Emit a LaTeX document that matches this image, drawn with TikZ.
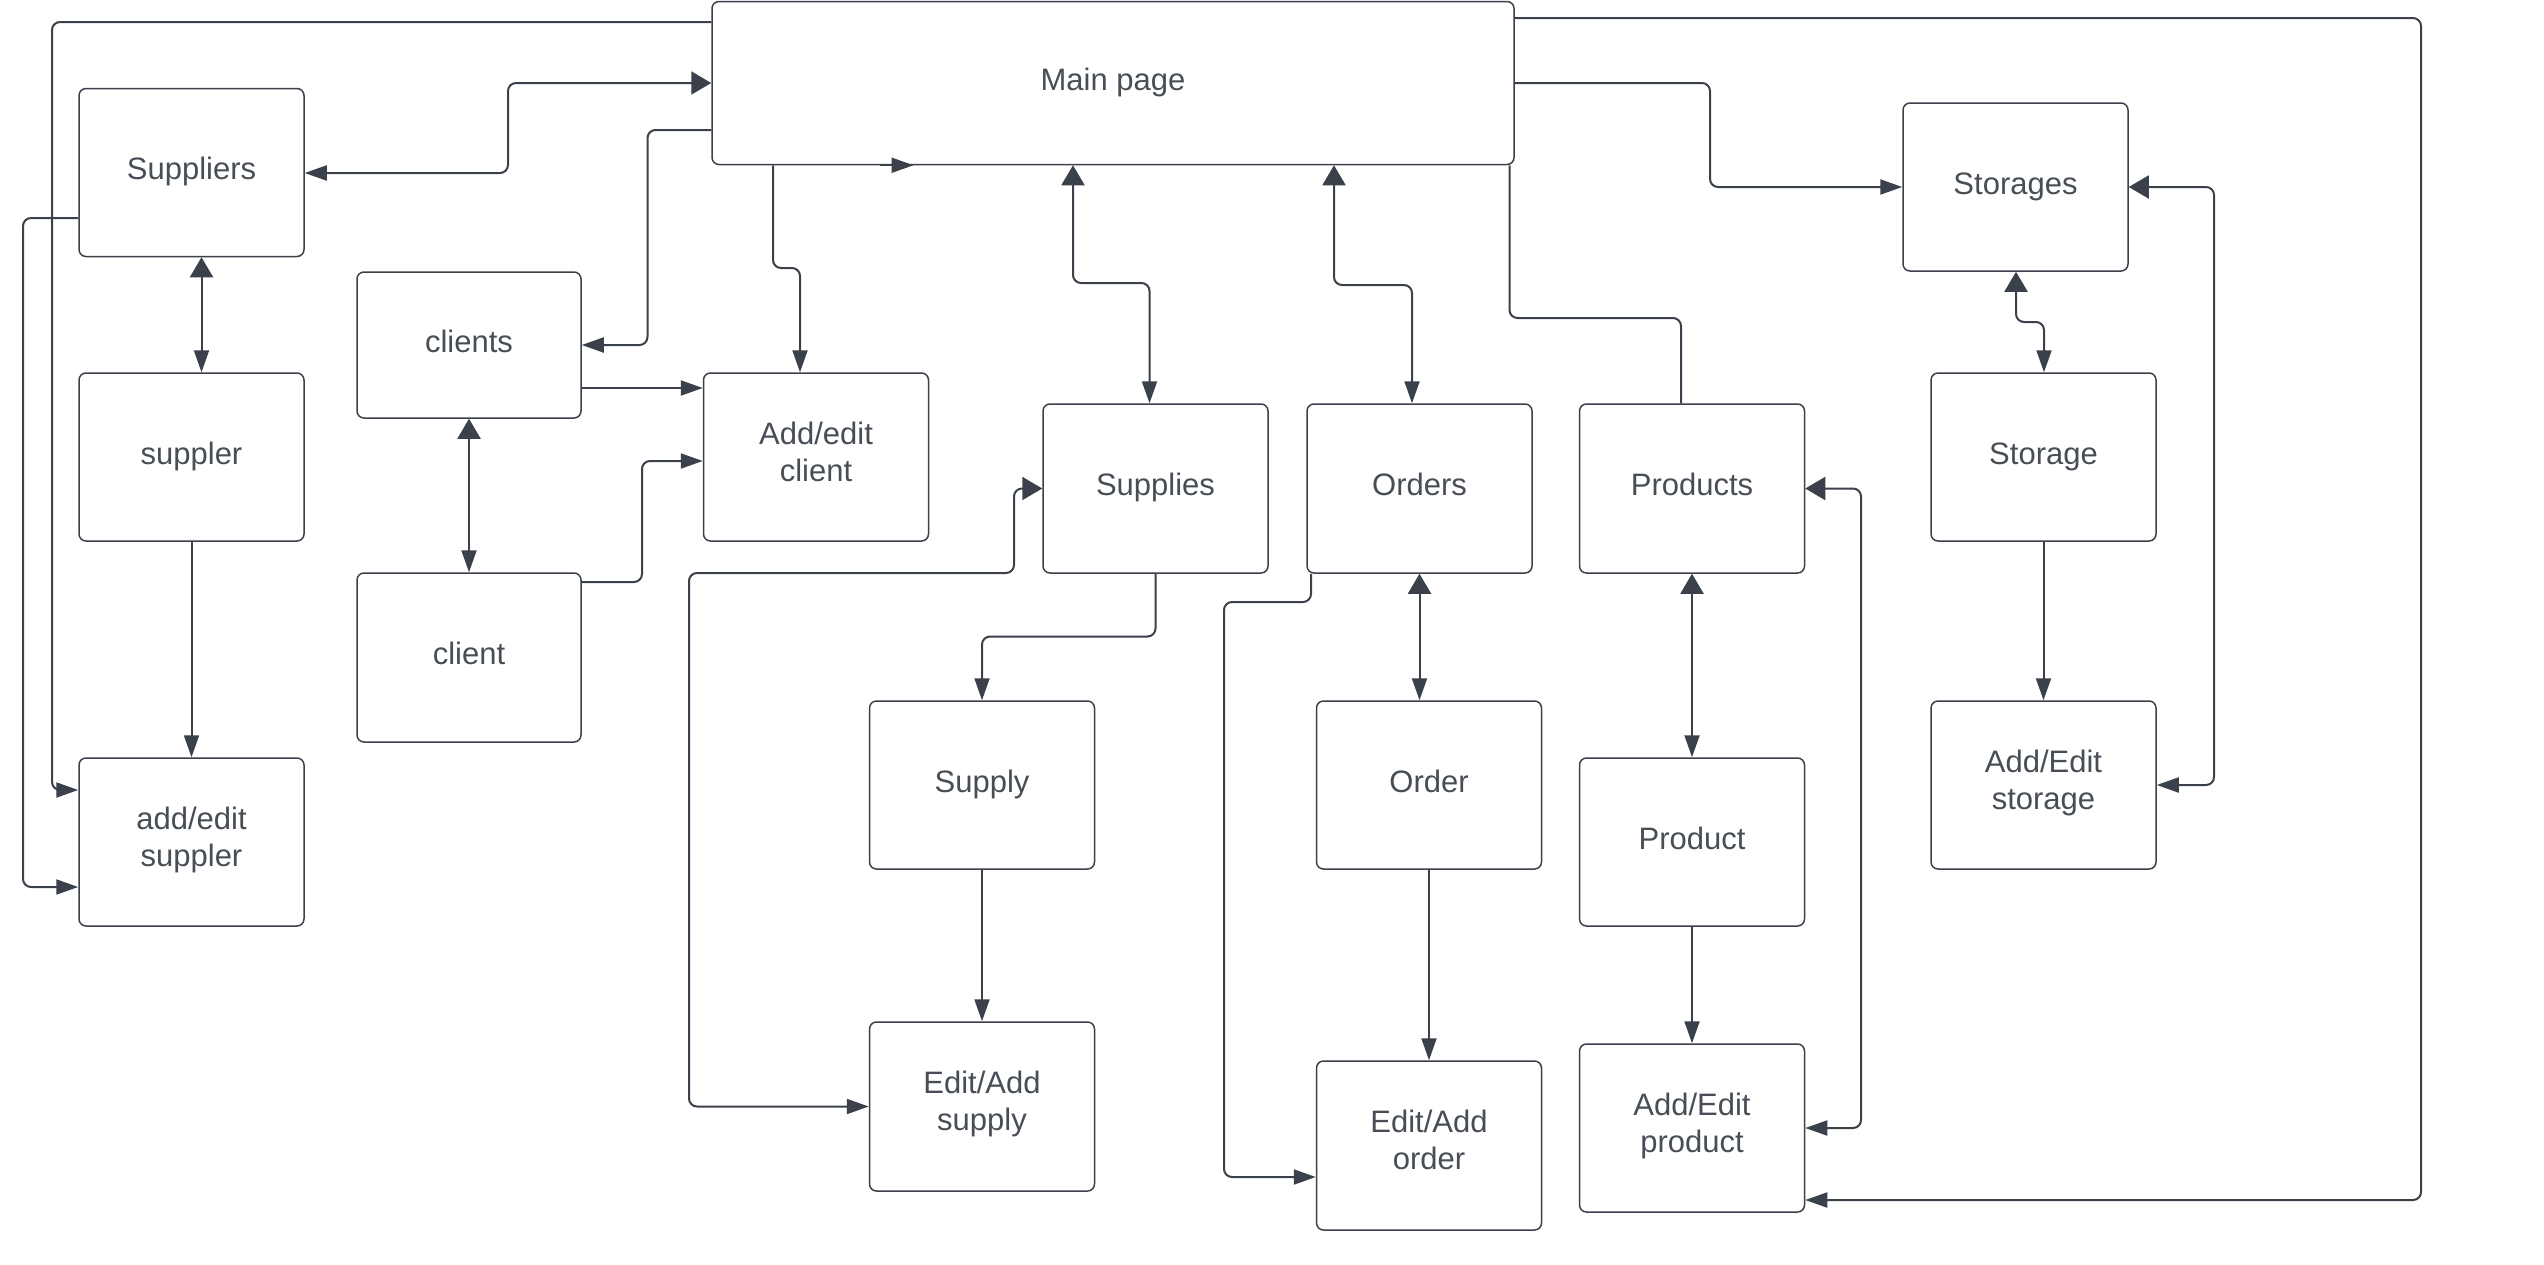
\documentclass[tikz,border=0pt]{standalone}
\usepackage{fontspec}
\setmainfont{Liberation Sans}
\usetikzlibrary{arrows.meta}
\definecolor{ink}{RGB}{58,65,74}
\definecolor{label}{RGB}{72,78,86}
\begin{document}
\begin{tikzpicture}[x=1pt,y=-1pt,
  box/.style={draw=ink, line width=1.5pt, rounded corners=7pt,
    minimum width=225pt, minimum height=168pt, inner sep=0pt,
    text=label, align=center, font=\fontsize{31}{37}\selectfont,
    execute at begin node=\strut, execute at end node=\strut},
  conn/.style={draw=ink, line width=2pt, rounded corners=8pt},
  uni/.style={conn, -{Triangle[length=22pt,width=15pt]}},
  bi/.style={conn, {Triangle[length=20pt,width=23pt]}-{Triangle[length=22pt,width=15pt]}},
]
\useasboundingbox (0,0) rectangle (2544,1264);

% pages
\node[box, minimum width=802pt, minimum height=163pt] (main) at (1113,83) {Main page};
\node[box] (suppliers) at (191.5,172.5) {Suppliers};
\node[box] (suppler) at (191.5,457) {suppler};
\node[box] (addsupp) at (191.5,842) {add/edit\\suppler};
\node[box, minimum width=224pt, minimum height=146pt] (clients) at (469,345) {clients};
\node[box, minimum width=224pt, minimum height=169pt] (client) at (469,657.5) {client};
\node[box] (addclient) at (816,457) {Add/edit\\client};
\node[box, minimum height=169pt] (supplies) at (1155.5,488.5) {Supplies};
\node[box, minimum height=169pt] (orders) at (1419.5,488.5) {Orders};
\node[box, minimum height=169pt] (products) at (1692,488.5) {Products};
\node[box] (storages) at (2015.5,187) {Storages};
\node[box] (storage) at (2043.5,457) {Storage};
\node[box] (addstorage) at (2043.5,785) {Add/Edit\\storage};
\node[box] (supply) at (982,785) {Supply};
\node[box, minimum height=169pt] (addsupply) at (982,1106.5) {Edit/Add\\supply};
\node[box] (order) at (1429,785) {Order};
\node[box, minimum height=169pt] (addorder) at (1429,1145.5) {Edit/Add\\order};
\node[box] (product) at (1692,842) {Product};
\node[box] (addproduct) at (1692,1128) {Add/Edit\\product};

% suppliers branch
\draw[bi] (main.west) -- (508,83) -- (508,173) -- (suppliers.east |- 0,173);
\draw[uni] (main.west |- 0,22) -- (52,22) -- (52,790) -- (addsupp.west |- 0,790);
\draw[uni] (suppliers.west |- 0,218) -- (23,218) -- (23,887) -- (addsupp.west |- 0,887);
\draw[bi] (suppliers.south -| 201.5,0) -- (suppler.north -| 201.5,0);
\draw[uni] (suppler.south) -- (addsupp.north);

% clients branch
\draw[uni] (main.west |- 0,130) -- (647.5,130) -- (647.5,345) -- (clients.east);
\draw[uni] (clients.east |- 0,388) -- (addclient.west |- 0,388);
\draw[uni] (main.south -| 773,0) -- (773,268) -- (800,268) -- (addclient.north -| 800,0);
\draw[uni] (main.south -| 880,0) -- (main.south -| 913.5,0);
\draw[bi] (clients.south) -- (client.north);
\draw[uni] (client.east |- 0,582) -- (642,582) -- (642,461) -- (addclient.west |- 0,461);

% supplies branch
\draw[bi] (main.south -| 1073,0) -- (1073,283) -- (1149.5,283) -- (supplies.north -| 1149.5,0);
\draw[bi] (supplies.west) -- (1014,488.5) -- (1014,573) -- (689,573) -- (689,1106.5) -- (addsupply.west);
\draw[uni] (supplies.south) -- (1155.5,636.5) -- (982,636.5) -- (supply.north);
\draw[uni] (supply.south) -- (addsupply.north);

% orders branch
\draw[bi] (main.south -| 1334,0) -- (1334,285) -- (1412,285) -- (orders.north -| 1412,0);
\draw[uni] (orders.south -| 1311,0) -- (1311,602) -- (1224,602) -- (1224,1177) -- (addorder.west |- 0,1177);
\draw[bi] (orders.south) -- (order.north -| orders.south);
\draw[uni] (order.south) -- (addorder.north);

% products branch
\draw[conn] (main.south -| 1509.5,0) -- (1509.5,318) -- (1681,318) -- (products.north -| 1681,0);
\draw[bi] (products.south) -- (product.north);
\draw[uni] (product.south) -- (addproduct.north);
\draw[bi] (products.east) -- (1861,488.5) -- (1861,1128) -- (addproduct.east);
\draw[uni] (main.east |- 0,18) -- (2421,18) -- (2421,1200) -- (addproduct.east |- 0,1200);

% storages branch
\draw[uni] (main.east) -- (1710,83) -- (1710,187) -- (storages.west);
\draw[bi] (storages.east) -- (2214,187) -- (2214,785) -- (addstorage.east);
\draw[bi] (storages.south -| 2016,0) -- (2016,322) -- (2044,322) -- (storage.north -| 2044,0);
\draw[uni] (storage.south) -- (addstorage.north);
\end{tikzpicture}
\end{document}
